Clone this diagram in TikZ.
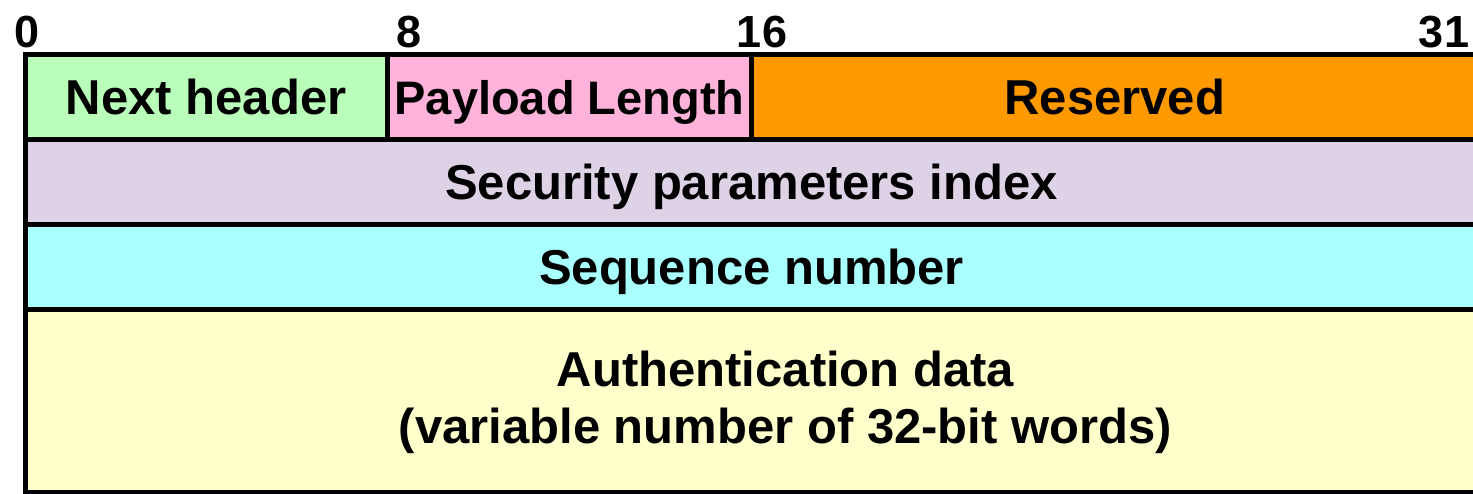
\documentclass[tikz,border=0pt]{standalone}
\usepackage{fontspec}
\setmainfont{Liberation Sans}
\usepackage{tikz}
\definecolor{nhgreen}{RGB}{185,255,185}
\definecolor{plpink}{RGB}{255,179,218}
\definecolor{rsorange}{RGB}{255,153,0}
\definecolor{spililac}{RGB}{222,210,230}
\definecolor{sqcyan}{RGB}{170,255,255}
\definecolor{adyellow}{RGB}{255,255,204}

\begin{document}
\begin{tikzpicture}[x=1pt,y=-1pt,line width=5pt]
  \tikzstyle{field}=[draw=black,rectangle,inner sep=0pt,outer sep=0pt,
                     anchor=north west,minimum height=85pt,
                     font=\fontsize{49}{57}\selectfont\bfseries,align=center]
  % one-line fields share a baseline
  \tikzstyle{oneline}=[field,text height=35pt,text depth=0pt]
  \tikzstyle{bitnum}=[anchor=base,inner sep=0pt,
                      font=\fontsize{45}{54}\selectfont\bfseries]
  \useasboundingbox (0,0) rectangle (1473,493);

  % bit positions
  \node[bitnum] (bit0)  at (27,47)   {0};
  \node[bitnum] (bit8)  at (409,47)  {8};
  \node[bitnum] (bit16) at (762,47)  {16};
  \node[bitnum] (bit31) at (1444,47) {31};

  % header words
  \node[oneline,fill=nhgreen,minimum width=362.5pt]  (nxthdr) at (25,54.5)    {Next header};
  \node[oneline,fill=plpink,minimum width=364pt,font=\fontsize{47}{57}\selectfont\bfseries]
       (paylen) at (387.5,54.5) {Payload Length};
  \node[oneline,fill=rsorange,minimum width=726.5pt] (rsvd)   at (751.5,54.5) {Reserved};
  \node[oneline,fill=spililac,minimum width=1453pt]  (spi)    at (25,139.5)   {Security parameters index};
  \node[oneline,fill=sqcyan,minimum width=1453pt]    (seqno)  at (25,224.5)   {Sequence number};
  \node[field,fill=adyellow,minimum width=1453pt,minimum height=182.5pt]
       (authdata) at (25,309.5) {};
  \node[font=\fontsize{49}{57}\selectfont\bfseries,align=center,inner sep=0pt]
       (authtext) at ([xshift=34pt,yshift=-2pt]authdata.center)
       {Authentication data\\(variable number of 32-bit words)};
\end{tikzpicture}
\end{document}
